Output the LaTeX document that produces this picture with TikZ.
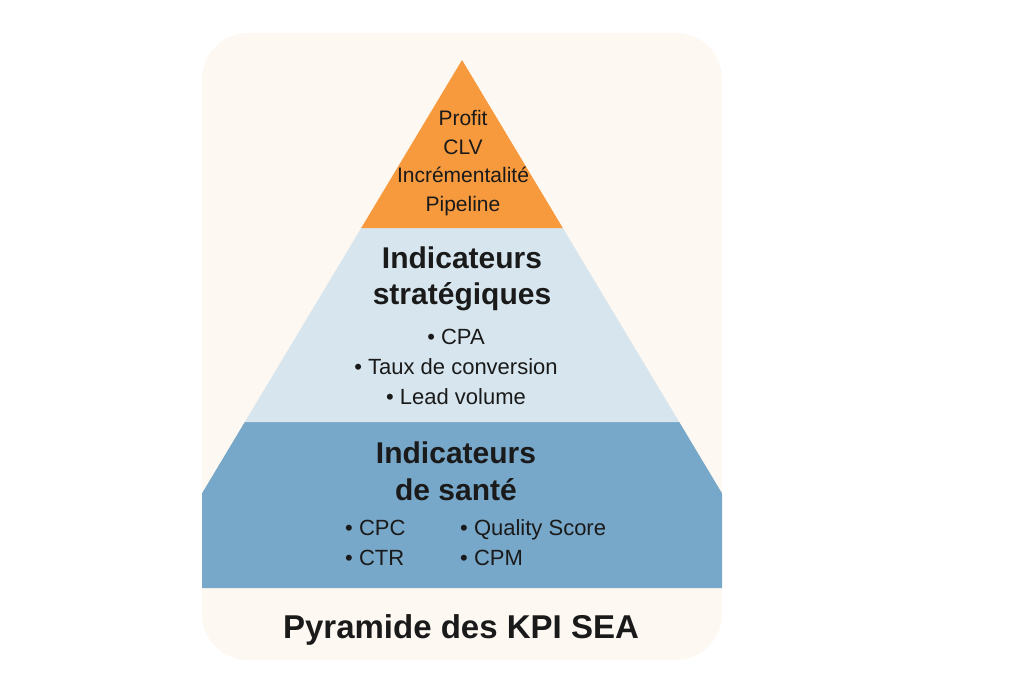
\documentclass[tikz,border=0pt]{standalone}
\usepackage{fontspec}
\setmainfont{Liberation Sans}
\usetikzlibrary{positioning}
\definecolor{fondcreme}{HTML}{FDF8F1}
\definecolor{orangekpi}{HTML}{F79A3E}
\definecolor{bleuclair}{HTML}{D7E6EE}
\definecolor{bleuacier}{HTML}{77A7C9}
\definecolor{texte}{HTML}{1A1A1A}
\tikzset{
  etage/.style={text=texte, align=center, inner sep=0pt},
  liste/.style={text=texte, align=left, inner sep=0pt, anchor=west,
    font=\fontsize{22}{30}\selectfont},
}
\begin{document}
\begin{tikzpicture}[x=1pt, y=-1pt, line join=round]
	\useasboundingbox (0,0) rectangle (1024,683);
	%%%%%%%%%%%%%%%%%%%%%%%%%%%%%%%%%
	\coordinate (S) at (462,60);
	\coordinate (A1) at (361.2,228);
	\coordinate (A2) at (562.8,228);
	\coordinate (B1) at (244.8,422);
	\coordinate (B2) at (679.2,422);
	\coordinate (C1) at (145.2,588);
	\coordinate (C2) at (778.8,588);
	%%%%%%%%%%%%%%%%%%%%%%%%%%%%%%%%%
	\fill[fondcreme, rounded corners=46pt] (202,33) rectangle (722,660);
	\begin{scope}
		\clip[rounded corners=46pt] (202,33) rectangle (722,660);
		\fill[bleuacier] (B1) -- (B2) -- (C2) -- (C1) -- cycle;
		\fill[bleuclair] (A1) -- (A2) -- (B2) -- (B1) -- cycle;
		\fill[orangekpi] (A1) -- (A2) -- (S) -- cycle;
	\end{scope}
	%%%%%%%%%%%%%%%%%%%%%%%%%%%%%%%%%
	\node[etage, font=\fontsize{21}{28.5}\selectfont] (sommet) at (463,163)
		{Profit\\CLV\\Incrémentalité\\Pipeline};
	\node[etage, font=\fontsize{30}{36}\selectfont\bfseries] (strat) at (462,279)
		{Indicateurs\\stratégiques};
	\node[etage, font=\fontsize{22}{30}\selectfont] (stratliste) at (456,367)
		{\textbullet\ CPA\\\textbullet\ Taux de conversion\\\textbullet\ Lead volume};
	\node[etage, font=\fontsize{30}{37}\selectfont\bfseries] (sante) at (456,471)
		{Indicateurs\\de santé};
	\node[liste] (santeg) at (345,543) {\textbullet\ CPC\\\textbullet\ CTR};
	\node[liste] (santed) at (460,543) {\textbullet\ Quality Score\\\textbullet\ CPM};
	%%%%%%%%%%%%%%%%%%%%%%%%%%%%%%%%%
	\node[etage, font=\fontsize{33}{40}\selectfont\bfseries] (titre) at (461,630)
		{Pyramide des KPI SEA};
\end{tikzpicture}
\end{document}
